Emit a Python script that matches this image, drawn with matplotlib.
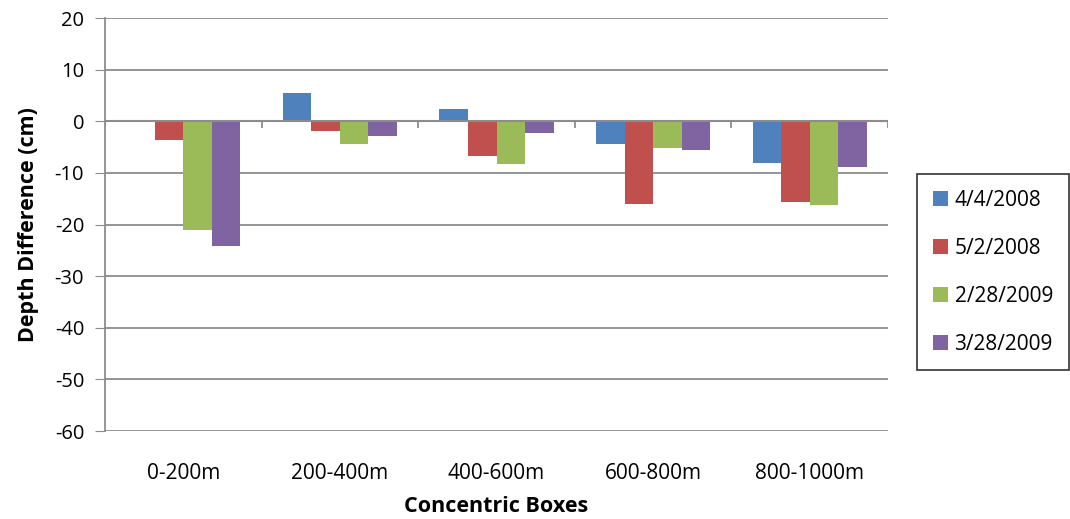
import numpy as np
import matplotlib.pyplot as plt
from matplotlib.patches import Patch

plt.rcParams['font.family'] = ['Open Sans', 'DejaVu Sans']
plt.rcParams['axes.unicode_minus'] = False

# categories and series
boxes = ['0-200m', '200-400m', '400-600m', '600-800m', '800-1000m']
dates = ['4/4/2008', '5/2/2008', '2/28/2009', '3/28/2009']
d_0404_2008 = [0.0, 5.5, 2.3, -4.5, -8.1]
d_0502_2008 = [-3.6, -1.8, -6.8, -16.1, -15.6]
d_0228_2009 = [-21.0, -4.5, -8.2, -5.2, -16.3]
d_0328_2009 = [-24.2, -2.8, -2.2, -5.5, -8.8]
series = [d_0404_2008, d_0502_2008, d_0228_2009, d_0328_2009]
colors = ['#4F81BD', '#C0504D', '#9BBB59', '#8064A2']

fig = plt.figure(figsize=(10.7, 5.19), dpi=100)
ax = fig.add_axes([105/1070, 1-431/519, 783/1070, 413/519])

x = np.arange(len(boxes))
w = 0.182
for i, (vals, c) in enumerate(zip(series, colors)):
    ax.bar(x + (i - 1.5)*w, vals, width=w, color=c, zorder=3)

ax.set_xlim(-0.5, len(boxes) - 0.5)
ax.set_ylim(-60, 20)
ax.set_yticks(np.arange(-60, 21, 10))
ax.yaxis.grid(True, color='#8C8C8C', linewidth=1.3, zorder=0)
ax.axhline(0, color='#8C8C8C', linewidth=1.5, zorder=4)
# category tick marks on the zero line
ax.vlines(np.arange(len(boxes) + 1) - 0.5, -1.4, 0, color='#8C8C8C', linewidth=1.3, zorder=4)

for s in ['top', 'right', 'bottom']:
    ax.spines[s].set_visible(False)
ax.spines['left'].set_color('#8C8C8C')
ax.spines['left'].set_linewidth(1.3)
ax.tick_params(axis='y', length=7, color='#8C8C8C', labelsize=14.5, pad=8)
ax.set_xticks(x)
ax.set_xticklabels(boxes)
ax.tick_params(axis='x', length=0, labelsize=15, pad=23)

ax.set_ylabel('Depth Difference (cm)', fontsize=15.5, fontweight='bold', labelpad=11)
ax.set_xlabel('Concentric Boxes', fontsize=15.5, fontweight='bold', labelpad=9)

handles = [Patch(facecolor=c) for c in colors]
leg = fig.legend(handles, dates, loc='upper left', bbox_to_anchor=(917/1070, 1-174/519),
                 fontsize=15, frameon=True, fancybox=False, edgecolor='black',
                 handlelength=0.75, handleheight=0.75, handletextpad=0.3,
                 labelspacing=1.3, borderpad=0.75, borderaxespad=0)
leg.get_frame().set_linewidth(1.2)

fig.savefig('out.png', dpi=100)
